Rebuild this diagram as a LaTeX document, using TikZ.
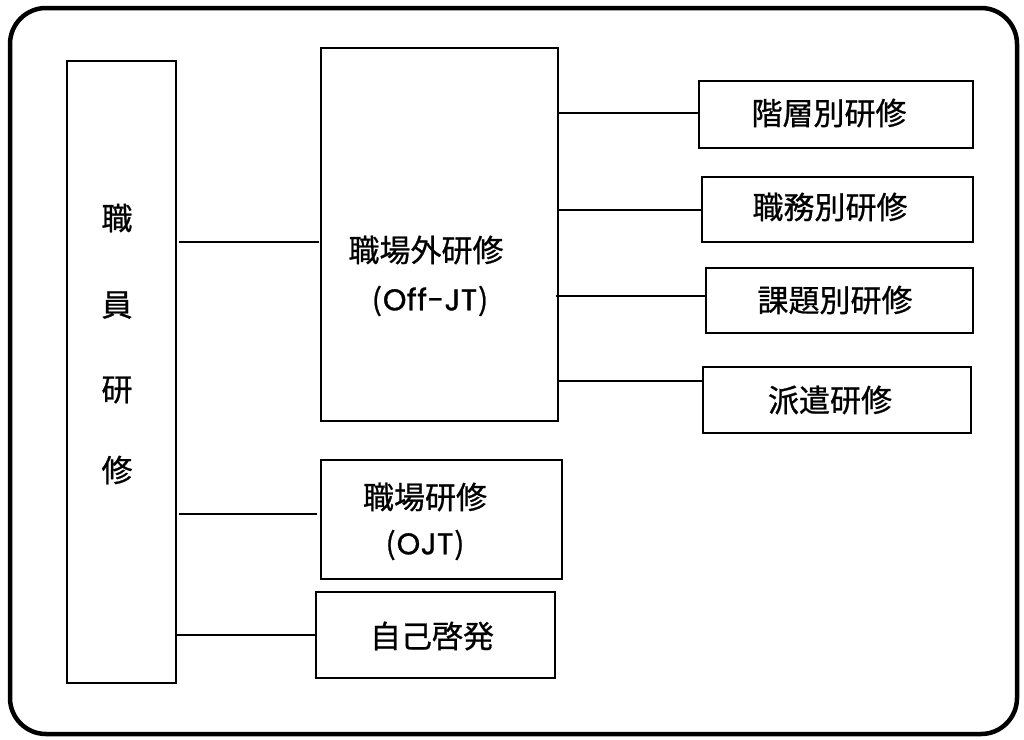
\documentclass[tikz,border=0pt]{standalone}
\usepackage{fontspec}
\setmainfont{Noto Sans CJK JP}[FakeBold=0.8]
\newfontfamily\latinfont{Poppins}[LetterSpace=1.5,FakeBold=1]
\newcommand{\lt}[1]{(\hspace{1pt}{\latinfont #1}\hspace{1pt})}
\begin{document}
\begin{tikzpicture}[x=1pt,y=-1pt,
  box/.style={draw, line width=1.5pt, inner sep=0pt, outer sep=0pt},
  conn/.style={line width=1.5pt},
  lbl/.style={font=\fontsize{31}{31}\selectfont, inner sep=0pt},
  lat/.style={font=\fontsize{30}{30}\selectfont, inner sep=0pt}]
\useasboundingbox (0,0) rectangle (1024,739);
\draw[line width=4.5pt, rounded corners=36pt] (10,8) rectangle (1017,734);
% boxes
\node[box, minimum width=109pt, minimum height=622pt] (staff) at (121.5,372) {};
\node[box, minimum width=237pt, minimum height=373pt] (offjt) at (439.5,234.5) {};
\node[box, minimum width=274pt, minimum height=67pt] (r1) at (836,114.5) {};
\node[box, minimum width=271pt, minimum height=65pt] (r2) at (837.5,209.5) {};
\node[box, minimum width=267pt, minimum height=65pt] (r3) at (839.5,300.5) {};
\node[box, minimum width=268pt, minimum height=66pt] (r4) at (837,400) {};
\node[box, minimum width=241pt, minimum height=119pt] (ojt) at (441.5,519.5) {};
\node[box, minimum width=239pt, minimum height=86pt] (self) at (435.5,635) {};
% texts
\node[lbl] (s1) at (117,218) {職};
\node[lbl] (s2) at (117,305) {員};
\node[lbl] (s3) at (117,390) {研};
\node[lbl] (s4) at (117,470) {修};
\node[lbl] (t1) at (426,250) {職場外研修};
\node[lat] (t2) at (430,301) {\lt{Off-JT}};
\node[lbl] (t3) at (829,113) {階層別研修};
\node[lbl] (t4) at (830,207) {職務別研修};
\node[lbl] (t5) at (835,300) {課題別研修};
\node[lbl] (t6) at (830,400) {派遣研修};
\node[lbl] (t7) at (425,497) {職場研修};
\node[lat] (t8) at (425,545) {\lt{OJT}};
\node[lbl] (t9) at (432,636) {自己啓発};
% connectors
\draw[conn] ([xshift=3pt]staff.east |- 0,242) -- ([xshift=-2pt]offjt.west |- 0,242);
\draw[conn] ([xshift=3pt]staff.east |- 0,514) -- ([xshift=-4pt]ojt.west |- 0,514);
\draw[conn] (staff.east |- 0,635) -- (self.west |- 0,635);
\draw[conn] (offjt.east |- 0,113) -- (r1.west |- 0,113);
\draw[conn] (offjt.east |- 0,210) -- (r2.west |- 0,210);
\draw[conn] ([xshift=-2pt]offjt.east |- 0,296) -- (r3.west |- 0,296);
\draw[conn] (offjt.east |- 0,381) -- (r4.west |- 0,381);
\end{tikzpicture}
\end{document}
